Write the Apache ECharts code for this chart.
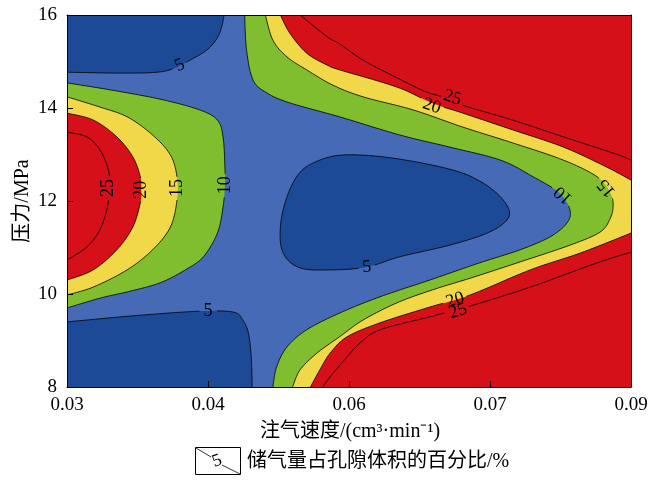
<!DOCTYPE html>
<html>
<head>
<meta charset="utf-8">
<script src="https://cdn.jsdelivr.net/npm/echarts@6/dist/echarts.min.js"></script>
<style>
  html, body { margin: 0; padding: 0; background: #fff; }
  #chart { width: 667px; height: 480px; }
</style>
</head>
<body>
<div id="chart"></div>
<script>
// ---- axes ----
const xMin = 0.03, xMax = 0.09, xStep = 0.015;
const xTickLabels = ['0.03', '0.04', '0.06', '0.07', '0.09'];
const yMin = 8, yMax = 16, yStep = 2;

// ---- contour levels (storage as % of pore volume) ----
const levels = [5, 10, 15, 20, 25];

// ---- contour lines, points are [injection rate, pressure MPa] ----
const c5TopLeft = [[0.0300,14.77],[0.0356,14.75],[0.0396,14.77],[0.0415,14.86],[0.0431,15.03],[0.0449,15.25],[0.0460,15.51],[0.0465,15.78],[0.0467,16.00]];
const c5BottomLeft = [[0.0300,9.40],[0.0370,9.53],[0.0441,9.63],[0.0477,9.61],[0.0487,9.44],[0.0493,9.16],[0.0496,8.65],[0.0497,8.00]];
const c5Island = [[0.0548,12.62],[0.0569,12.88],[0.0594,12.99],[0.0636,12.95],[0.0689,12.77],[0.0726,12.56],[0.0753,12.24],[0.0769,11.87],[0.0768,11.59],[0.0747,11.31],[0.0707,11.05],[0.0654,10.80],[0.0619,10.58],[0.0583,10.52],[0.0548,10.56],[0.0530,10.88],[0.0527,11.44],[0.0534,12.09]];

const c10Left = [[0.0300,14.54],[0.0346,14.39],[0.0399,14.19],[0.0441,13.96],[0.0460,13.74],[0.0466,13.38],[0.0468,12.73],[0.0468,12.34],[0.0466,11.87],[0.0460,11.31],[0.0445,10.80],[0.0426,10.52],[0.0399,10.24],[0.0367,10.06],[0.0335,9.91],[0.0300,9.70]];
const c15Left = [[0.0300,14.24],[0.0335,14.02],[0.0364,13.81],[0.0391,13.42],[0.0410,12.99],[0.0417,12.52],[0.0417,12.02],[0.0410,11.44],[0.0391,10.95],[0.0364,10.52],[0.0328,10.15],[0.0300,9.98]];
const c20Left = [[0.0300,13.89],[0.0328,13.74],[0.0353,13.38],[0.0370,12.95],[0.0378,12.52],[0.0379,12.24],[0.0378,11.96],[0.0370,11.44],[0.0353,10.95],[0.0328,10.52],[0.0300,10.30]];
const c25Left = [[0.0300,13.48],[0.0321,13.38],[0.0335,13.10],[0.0344,12.67],[0.0345,12.28],[0.0343,11.87],[0.0335,11.38],[0.0321,11.01],[0.0300,10.73]];

const c10Right = [[0.0489,16.00],[0.0491,15.25],[0.0498,14.60],[0.0513,14.32],[0.0537,14.11],[0.0590,13.81],[0.0654,13.42],[0.0707,13.16],[0.0761,12.88],[0.0796,12.52],[0.0824,12.17],[0.0835,11.81],[0.0832,11.53],[0.0814,11.23],[0.0782,10.95],[0.0739,10.67],[0.0686,10.30],[0.0633,9.94],[0.0590,9.59],[0.0555,9.23],[0.0534,8.86],[0.0523,8.43],[0.0519,8.00]];
const c15Right = [[0.0511,16.00],[0.0519,15.46],[0.0534,15.10],[0.0555,14.82],[0.0583,14.49],[0.0615,14.24],[0.0668,13.96],[0.0721,13.59],[0.0774,13.25],[0.0828,12.88],[0.0864,12.52],[0.0878,12.17],[0.0881,11.91],[0.0878,11.63],[0.0867,11.33],[0.0835,11.05],[0.0782,10.69],[0.0729,10.34],[0.0689,10.09],[0.0651,9.81],[0.0615,9.44],[0.0590,9.08],[0.0566,8.73],[0.0548,8.37],[0.0540,8.00]];
const c20RightUpper = [[0.0527,16.00],[0.0537,15.61],[0.0555,15.18],[0.0577,14.92],[0.0590,14.82],[0.0651,14.45],[0.0688,14.11],[0.0721,13.89],[0.0774,13.53],[0.0828,13.16],[0.0874,12.73],[0.0900,12.45]];
const c20RightLower = [[0.0900,11.31],[0.0846,10.88],[0.0793,10.52],[0.0729,9.98],[0.0686,9.72],[0.0633,9.38],[0.0598,9.08],[0.0580,8.73],[0.0569,8.37],[0.0559,8.00]];
const c25RightUpper = [[0.0548,16.00],[0.0577,15.53],[0.0590,15.38],[0.0615,15.03],[0.0651,14.65],[0.0683,14.34],[0.0710,14.19],[0.0721,14.06],[0.0774,13.74],[0.0828,13.38],[0.0881,13.03],[0.0900,12.88]];
const c25RightLower = [[0.0900,10.90],[0.0864,10.67],[0.0793,10.15],[0.0732,9.76],[0.0686,9.51],[0.0633,9.23],[0.0612,8.95],[0.0598,8.65],[0.0580,8.22],[0.0572,8.00]];

// ---- inline contour labels: [x, y, level, angle in degrees] ----
const contourLabels = [
  [0.0420, 14.92, 5, 25],
  [0.0344, 12.28, 25, 90],
  [0.0379, 12.24, 20, 90],
  [0.0417, 12.28, 15, 90],
  [0.0468, 12.34, 10, 90],
  [0.0450, 9.63, 5, 0],
  [0.0619, 10.58, 5, 5],
  [0.0828, 12.13, 10, 138],
  [0.0874, 12.28, 15, 130],
  [0.0688, 14.04, 20, -18],
  [0.0710, 14.22, 25, -18],
  [0.0713, 9.87, 20, 18],
  [0.0716, 9.63, 25, 18]
];

// ---- styling ----
const bandColors = ['#1c4a96', '#466ab6', '#80be30', '#f0d848', '#d51018'];
const serif = "'Liberation Serif', 'Noto Sans CJK SC', serif";

// filled bands: each polygon is a contour curve closed through plot corners
const fills = [
  { band: 1, curve: [], corners: [[xMin, yMin], [xMax, yMin], [xMax, yMax], [xMin, yMax]] },
  { band: 0, curve: c5TopLeft, corners: [[xMin, yMax]] },
  { band: 0, curve: c5BottomLeft, corners: [[xMin, yMin]] },
  { band: 0, curve: c5Island, corners: [], closed: true },
  { band: 2, curve: c10Left, corners: [] },
  { band: 3, curve: c15Left, corners: [] },
  { band: 4, curve: c20Left, corners: [] },
  { band: 2, curve: c10Right, corners: [[xMax, yMin], [xMax, yMax]] },
  { band: 3, curve: c15Right, corners: [[xMax, yMin], [xMax, yMax]] },
  { band: 4, curve: c20RightUpper, corners: [[xMax, yMax]] },
  { band: 4, curve: c20RightLower, corners: [[xMax, yMin]] }
];

const lines = [
  { level: 5, pts: c5TopLeft }, { level: 5, pts: c5BottomLeft }, { level: 5, pts: c5Island, closed: true },
  { level: 10, pts: c10Left }, { level: 15, pts: c15Left }, { level: 20, pts: c20Left }, { level: 25, pts: c25Left },
  { level: 10, pts: c10Right }, { level: 15, pts: c15Right },
  { level: 20, pts: c20RightUpper }, { level: 20, pts: c20RightLower },
  { level: 25, pts: c25RightUpper }, { level: 25, pts: c25RightLower }
];

// Catmull-Rom smoothing of a pixel polyline for drawing
function cr(a, b, c, d, t) {
  const t2 = t * t, t3 = t2 * t;
  return 0.5 * (2 * b + (c - a) * t + (2 * a - 5 * b + 4 * c - d) * t2 + (3 * b - a - 3 * c + d) * t3);
}
function smoothPx(px, closed) {
  const n = px.length;
  if (n < 3) return px.slice();
  const at = i => closed ? px[(i + n) % n] : px[Math.min(n - 1, Math.max(0, i))];
  const segs = closed ? n : n - 1, out = [];
  for (let i = 0; i < segs; i++) {
    const p0 = at(i - 1), p1 = at(i), p2 = at(i + 1), p3 = at(i + 2);
    for (let k = 0; k < 12; k++) {
      const t = k / 12;
      out.push([cr(p0[0], p1[0], p2[0], p3[0], t), cr(p0[1], p1[1], p2[1], p3[1], t)]);
    }
  }
  out.push(closed ? out[0] : px[n - 1]);
  return out;
}

const chart = echarts.init(document.getElementById('chart'), null, { renderer: 'canvas' });

const option = {
  animation: false,
  backgroundColor: '#fff',
  grid: { left: 67, top: 15, width: 564, height: 372, containLabel: false },
  xAxis: [{
    type: 'value', min: xMin, max: xMax, interval: xStep, z: 5,
    axisLine: { show: true, lineStyle: { color: '#000', width: 1 } },
    axisTick: { show: true, inside: true, length: 6, lineStyle: { color: '#000' } },
    splitLine: { show: false },
    axisLabel: {
      color: '#000', fontSize: 19, fontFamily: serif, margin: 9,
      formatter: v => xTickLabels[Math.round((v - xMin) / xStep)] || ''
    }
  }, {
    type: 'value', position: 'top', min: xMin, max: xMax, z: 5,
    axisLine: { show: true, onZero: false, lineStyle: { color: '#000', width: 1 } },
    axisTick: { show: false }, axisLabel: { show: false }, splitLine: { show: false }
  }],
  yAxis: [{
    type: 'value', min: yMin, max: yMax, interval: yStep, z: 5,
    axisLine: { show: true, lineStyle: { color: '#000', width: 1 } },
    axisTick: { show: true, inside: true, length: 6, lineStyle: { color: '#000' } },
    splitLine: { show: false },
    axisLabel: { color: '#000', fontSize: 19, fontFamily: serif, margin: 10 }
  }, {
    type: 'value', position: 'right', min: yMin, max: yMax, z: 5,
    axisLine: { show: true, onZero: false, lineStyle: { color: '#000', width: 1 } },
    axisTick: { show: false }, axisLabel: { show: false }, splitLine: { show: false }
  }],
  series: [
    {
      name: 'bands', type: 'custom', coordinateSystem: 'cartesian2d', silent: true, clip: true, z: 1,
      data: fills.map(() => [xMin, yMin]),
      renderItem: (params, api) => {
        const f = fills[params.dataIndex];
        const curvePx = smoothPx(f.curve.map(p => api.coord(p)), !!f.closed);
        const pts = curvePx.concat(f.corners.map(p => api.coord(p)));
        return { type: 'polygon', shape: { points: pts }, style: { fill: bandColors[f.band], stroke: null } };
      }
    },
    {
      name: 'contours', type: 'custom', coordinateSystem: 'cartesian2d', silent: true, clip: true, z: 2,
      data: lines.map(() => [xMin, yMin]),
      renderItem: (params, api) => {
        const ln = lines[params.dataIndex];
        const gaps = contourLabels.filter(l => l[2] === ln.level).map(l => {
          const c = api.coord([l[0], l[1]]);
          return { x: c[0], y: c[1], r: String(l[2]).length > 1 ? 11 : 7 };
        });
        const pts = smoothPx(ln.pts.map(p => api.coord(p)), !!ln.closed);
        const parts = []; let cur = [];
        pts.forEach(p => {
          if (gaps.some(g => Math.hypot(p[0] - g.x, p[1] - g.y) < g.r)) {
            if (cur.length > 1) parts.push(cur);
            cur = [];
          } else cur.push(p);
        });
        if (cur.length > 1) parts.push(cur);
        return {
          type: 'group',
          children: parts.map(seg => ({
            type: 'polyline', shape: { points: seg },
            style: { stroke: '#000', lineWidth: 0.8, fill: null }
          }))
        };
      }
    },
    {
      name: 'contour labels', type: 'custom', coordinateSystem: 'cartesian2d', silent: true, clip: false, z: 3,
      data: contourLabels.map(l => [l[0], l[1]]),
      renderItem: (params, api) => {
        const l = contourLabels[params.dataIndex];
        const c = api.coord([l[0], l[1]]);
        return {
          type: 'text', x: c[0], y: c[1], rotation: l[3] * Math.PI / 180,
          style: {
            text: String(l[2]), fill: '#000', fontSize: 18, fontFamily: serif,
            align: 'center', verticalAlign: 'middle'
          }
        };
      }
    }
  ],
  graphic: [
    {
      type: 'text', x: 23, y: 201, rotation: Math.PI / 2,
      style: { text: '压力/MPa', fill: '#000', fontSize: 20, fontFamily: serif, align: 'center', verticalAlign: 'middle' }
    },
    {
      type: 'text', x: 350, y: 432,
      style: { text: '注气速度/(cm³·min⁻¹)', fill: '#000', fontSize: 20, fontFamily: serif, align: 'center', verticalAlign: 'middle' }
    },
    {
      type: 'rect', shape: { x: 195.5, y: 447.5, width: 45, height: 27 },
      style: { fill: null, stroke: '#000', lineWidth: 1 }
    },
    {
      type: 'line', shape: { x1: 196, y1: 448, x2: 211, y2: 457 },
      style: { stroke: '#000', lineWidth: 0.8 }
    },
    {
      type: 'line', shape: { x1: 222, y1: 465, x2: 240, y2: 474 },
      style: { stroke: '#000', lineWidth: 0.8 }
    },
    {
      type: 'text', x: 217, y: 461, rotation: 0.35,
      style: { text: '5', fill: '#000', fontSize: 18, fontFamily: serif, align: 'center', verticalAlign: 'middle' }
    },
    {
      type: 'text', x: 247, y: 462,
      style: { text: '储气量占孔隙体积的百分比/%', fill: '#000', fontSize: 20, fontFamily: serif, align: 'left', verticalAlign: 'middle' }
    }
  ]
};

chart.setOption(option);
</script>
</body>
</html>
